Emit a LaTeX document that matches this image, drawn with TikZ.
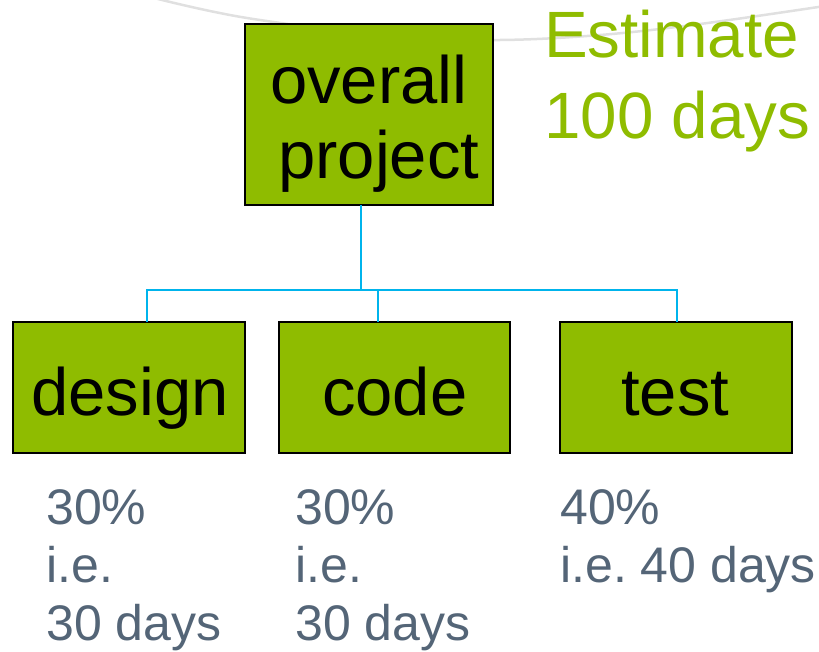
\documentclass[tikz,border=0pt]{standalone}
\usepackage{fontspec}
\setmainfont{Liberation Sans}
\frenchspacing
\definecolor{leafgreen}{HTML}{8FBC00}
\definecolor{linkblue}{HTML}{00B4EC}
\definecolor{slatetext}{HTML}{546577}
\definecolor{swoosh}{HTML}{E0E0E0}
\begin{document}
\begin{tikzpicture}[x=1pt,y=-1pt,
  taskbox/.style={draw=black,line width=2.6pt,fill=leafgreen},
  boxtext/.style={anchor=base west,inner sep=0pt,font=\fontsize{67}{67}\selectfont,text=black},
  notetext/.style={anchor=base west,inner sep=0pt,font=\fontsize{50}{50}\selectfont,text=slatetext},
  esttext/.style={anchor=base west,inner sep=0pt,font=\fontsize{65.5}{65.5}\selectfont,text=leafgreen},
  link/.style={draw=linkblue,line width=2.3pt}]
\useasboundingbox (0,0) rectangle (819,651);

% faint decorative swoosh behind the chart
\draw[swoosh,line width=2.5pt] plot[smooth,tension=0.6] coordinates
  {(150,-3) (247,18) (400,37) (500,40) (600,35) (700,24) (825,6)};

% boxes
\path[taskbox] (245,24) rectangle (493,205);
\coordinate (top) at (361,205);
\path[taskbox] (13,322) rectangle (245,453);
\path[taskbox] (279,322) rectangle (510,453);
\path[taskbox] (560,322) rectangle (792,453);
\coordinate (dsg) at (147,322);
\coordinate (cod) at (378,322);
\coordinate (tst) at (677,322);
\coordinate (bus) at (361,290);

% connectors
\draw[link] (top) -- (bus);
\draw[link] (dsg) |- (bus) -| (tst);
\draw[link] (cod) -- (cod |- bus);

% box labels
\node[boxtext] (ov) at (270,103) {overall};
\node[boxtext] (pj) at (278,178) {project};
\node[boxtext] (dl) at (31,415) {design};
\node[boxtext] (cl) at (322,415) {code};
\node[boxtext] (tl) at (621,415) {test};

% estimate
\node[esttext] (e1) at (544,57) {Estimate};
\node[esttext] (e2) at (544,138) {100 days};

% notes under boxes
\node[notetext] (d1) at (46,524) {30\%};
\node[notetext] (d2) at (46,582) {i.e.};
\node[notetext] (d3) at (46,640) {30 days};
\node[notetext] (c1) at (295,524) {30\%};
\node[notetext] (c2) at (295,582) {i.e.};
\node[notetext] (c3) at (295,640) {30 days};
\node[notetext] (t1) at (560,524) {40\%};
\node[notetext] (t2) at (560,582) {i.e. 40 days};
\end{tikzpicture}
\end{document}
